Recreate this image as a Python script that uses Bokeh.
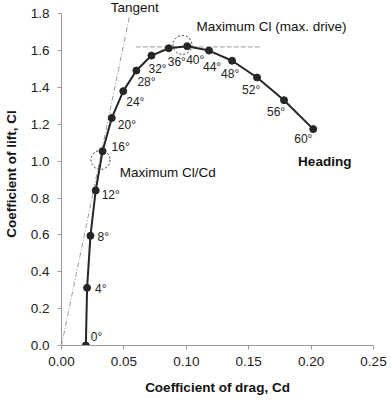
from bokeh.plotting import figure
from bokeh.models import ColumnDataSource, Label, Range1d, FixedTicker
from bokeh.core.properties import value
from bokeh.embed import file_html
from bokeh.resources import INLINE

# ---- data ----
heading = [0, 4, 8, 12, 16, 20, 24, 28, 32, 36, 40, 44, 48, 52, 56, 60]
cd = [0.0195, 0.0205, 0.0232, 0.0274, 0.0329, 0.0403, 0.0495, 0.0600,
      0.0721, 0.0859, 0.1007, 0.1182, 0.1367, 0.1567, 0.1783, 0.2017]
cl = [0.000, 0.313, 0.595, 0.841, 1.054, 1.235, 1.380, 1.492,
      1.573, 1.613, 1.624, 1.600, 1.545, 1.454, 1.331, 1.174]

tangent_cd = [0.0, 0.0543]
tangent_cl = [0.0, 1.78]

maxcl_cd = [0.0595, 0.1596]
maxcl_cl = [1.62, 1.62]

circle_cd = [0.0313, 0.0969]
circle_cl = [1.007, 1.631]

x_ticks = [0.0, 0.05, 0.10, 0.15, 0.20, 0.25]
y_ticks = [0.0, 0.2, 0.4, 0.6, 0.8, 1.0, 1.2, 1.4, 1.6, 1.8]

# label placement (screen px offsets relative to each point)
label_dx = [5, 8, 7, 6, 9, 6, 3, 1, -3, -1, -1, -6, -11, -15, -17, -19]
label_dy = [-9, 1, 1, 5, -4, 7, 11, 11, 13, 14, 14, 16, 13, 12, 12, 10]

FONT = "Liberation Sans"
DARK = "#262626"
GRAY = "#9a9a9a"

p = figure(width=391, height=400, output_backend="svg", toolbar_location=None,
           x_range=Range1d(0, 0.25), y_range=Range1d(0, 1.861),
           min_border_left=58, min_border_right=18, min_border_top=2,
           min_border_bottom=55)
p.outline_line_color = None
p.grid.visible = False

for ax in (p.xaxis[0], p.yaxis[0]):
    ax.axis_line_color = GRAY
    ax.major_tick_line_color = GRAY
    ax.minor_tick_line_color = None
    ax.major_tick_in = 0
    ax.major_tick_out = 4
    ax.major_label_text_font = FONT
    ax.major_label_text_font_size = "13.5px"
    ax.major_label_text_color = "#222222"
    ax.axis_label_text_font = FONT
    ax.axis_label_text_font_size = "13.5px"
    ax.axis_label_text_font_style = "bold"
    ax.axis_label_text_color = "#111111"

p.xaxis.ticker = FixedTicker(ticks=x_ticks)
p.yaxis.ticker = FixedTicker(ticks=y_ticks)
p.yaxis.bounds = (0, 1.8)
p.xaxis.major_label_overrides = {t: f"{t:.2f}" for t in x_ticks}
p.yaxis.major_label_overrides = {t: f"{t:.1f}" for t in y_ticks}
p.xaxis.axis_label = "Coefficient of drag, Cd"
p.yaxis.axis_label = "Coefficient of lift, Cl"
p.xaxis.major_label_standoff = 7
p.xaxis.axis_label_standoff = 11
p.yaxis.major_label_standoff = 8
p.yaxis.axis_label_standoff = 9

# tangent and max-Cl reference lines
p.line(tangent_cd, tangent_cl, line_color=GRAY, line_width=1, line_dash="5 2 1 2")
p.line(maxcl_cd, maxcl_cl, line_color=GRAY, line_width=1, line_dash="5 2")

# polar curve
src = ColumnDataSource(dict(cd=cd, cl=cl,
                            lab=[f"{h}\u00b0" for h in heading],
                            dx=label_dx, dy=label_dy))
p.line("cd", "cl", source=src, line_color=DARK, line_width=2)
p.scatter("cd", "cl", source=src, size=7, fill_color=DARK, line_color=DARK)
p.text("cd", "cl", text="lab", source=src, x_offset="dx", y_offset="dy",
       text_font=value(FONT), text_font_size=value("12px"),
       text_color="#222222", text_align="left", text_baseline="middle")

# dotted circles
p.scatter(circle_cd, circle_cl, size=19, fill_color=None,
          line_color="#333333", line_width=1, line_dash="2 2")

# annotations
for txt, x, y, bold in [
    ("Tangent", 0.0395, 1.836, False),
    ("Maximum Cl (max. drive)", 0.1082, 1.731, False),
    ("Maximum Cl/Cd", 0.0466, 0.939, False),
    ("Heading", 0.1896, 0.998, True),
]:
    p.add_layout(Label(x=x, y=y, text=txt, text_font=FONT,
                       text_font_size="13.5px",
                       text_font_style="bold" if bold else "normal",
                       text_color="#111111", text_align="left",
                       text_baseline="middle"))

open("out.html", "w").write(file_html(p, INLINE))
